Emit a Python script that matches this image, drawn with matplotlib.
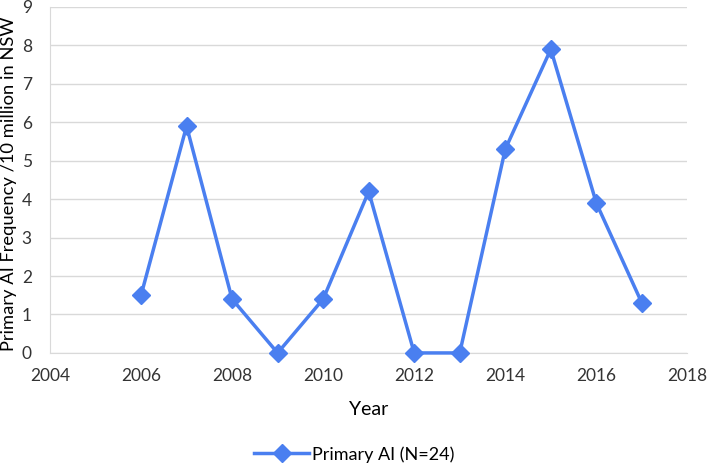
import matplotlib.pyplot as plt

years = [2006, 2007, 2008, 2009, 2010, 2011, 2012, 2013, 2014, 2015, 2016, 2017]
freq = [1.5, 5.9, 1.4, 0, 1.4, 4.2, 0, 0, 5.3, 7.9, 3.9, 1.3]
series_label = 'Primary AI (N=24)'

plt.rcParams['font.family'] = ['Lato', 'DejaVu Sans']
blue = '#4a7ff0'

fig = plt.figure(figsize=(7.09, 4.65), dpi=100)
ax = fig.add_axes([0.0705, 0.241, 0.899, 0.744])

ax.plot(years, freq, color=blue, lw=2.5, marker='D', ms=9, label=series_label, clip_on=False, zorder=3)

ax.set_xlim(2004, 2018)
ax.set_ylim(0, 9)
ax.set_xticks(range(2004, 2019, 2))
ax.set_yticks(range(0, 10))
ax.grid(axis='y', color='#d9d9d9', lw=1)
ax.set_axisbelow(True)
for s in ['top', 'right']:
    ax.spines[s].set_visible(False)
ax.spines['left'].set_color('#d9d9d9')
ax.spines['bottom'].set_color('#d9d9d9')
ax.tick_params(length=0, labelsize=12.5, colors='#333333')
ax.tick_params(axis='x', pad=11)
ax.tick_params(axis='y', pad=13)

ax.set_xlabel('Year', fontsize=14, labelpad=12)
ax.set_ylabel('Primary AI Frequency /10 million in NSW', fontsize=13.2, labelpad=3)
ax.yaxis.set_label_coords(-0.052, 0.49)

fig.legend(loc='lower center', bbox_to_anchor=(0.5, -0.03), frameon=False, fontsize=13,
           handlelength=3, handletextpad=0.2)

fig.savefig('out.png', dpi=100)
